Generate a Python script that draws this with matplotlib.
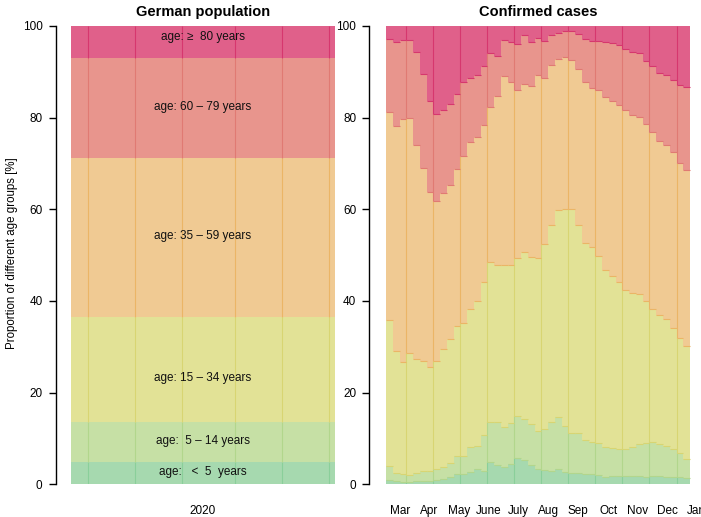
import numpy as np
import matplotlib
matplotlib.use("Agg")
import matplotlib.pyplot as plt

plt.rcParams['font.family'] = ['Liberation Sans', 'DejaVu Sans']

# age groups, youngest first
groups = ['<5', '5-14', '15-34', '35-59', '60-79', '80+']
labels = ['age:   <  5  years', 'age:  5 \u2013 14 years', 'age: 15 \u2013 34 years',
          'age: 35 \u2013 59 years', 'age: 60 \u2013 79 years', 'age: \u2265  80 years']
fill_cols = ['#A6D9AF', '#C6E0A5', '#E2E296', '#F0CA93', '#E8958D', '#E0608A']
line_cols = ['#8ACF9A', '#B2D68C', '#D8D572', '#EBB566', '#E07A73', '#D6376E']

# german population share per age group [%]
pop_share = [4.8, 8.8, 22.9, 34.8, 21.7, 7.0]

# confirmed cases, weekly, cumulative share [%] of cases below age x
cum_u5 = [0.9, 0.7, 0.5, 0.5, 0.7, 0.7, 0.7, 0.9, 1.2, 1.6, 2.2, 2.2, 2.7, 3.3, 3.0, 4.9,
          4.2, 3.8, 4.4, 5.7, 5.3, 4.2, 3.3, 3.1, 3.0, 3.3, 2.7, 2.4, 2.4, 2.2, 2.2, 2.0,
          1.7, 1.9, 1.8, 1.8, 1.8, 1.8, 1.7, 1.8, 1.8, 1.7, 1.6, 1.6, 1.3]
cum_u15 = [4.1, 2.5, 2.2, 2.1, 2.5, 2.9, 2.9, 3.3, 3.7, 4.6, 6.2, 6.2, 8.1, 8.4, 10.8, 13.7,
           13.7, 12.5, 13.3, 14.9, 14.2, 13.2, 11.6, 12.1, 13.7, 14.6, 12.7, 11.3, 11.3, 9.6,
           9.2, 9.1, 8.1, 8.0, 7.6, 7.6, 8.1, 8.7, 9.0, 9.2, 8.8, 8.3, 7.6, 6.8, 5.5]
cum_u35 = [35.8, 29.1, 26.6, 28.6, 27.3, 26.8, 25.7, 26.8, 29.5, 31.7, 34.5, 35.3, 38.3, 40.1,
           44.2, 48.4, 47.9, 47.9, 47.9, 49.3, 50.6, 49.6, 49.4, 52.4, 56.5, 59.9, 60.1, 60.1,
           56.5, 52.6, 51.8, 49.9, 46.8, 45.5, 44.1, 42.3, 41.8, 41.6, 40.1, 38.3, 36.9, 36.0,
           34.1, 32.0, 30.2]
cum_u60 = [81.3, 78.2, 79.7, 79.9, 74.0, 69.0, 63.8, 61.8, 63.6, 65.4, 68.9, 71.6, 74.7, 75.8,
           78.4, 82.4, 84.8, 89.1, 87.8, 86.0, 87.3, 86.8, 89.2, 88.7, 91.5, 92.9, 93.3, 92.6,
           90.6, 87.7, 86.5, 86.0, 84.4, 83.7, 82.8, 81.7, 80.5, 80.1, 78.7, 76.9, 75.0, 74.0,
           72.5, 70.2, 68.6]
cum_u80 = [97.2, 96.4, 97.0, 96.9, 94.4, 89.5, 83.6, 80.8, 81.6, 83.0, 85.2, 87.8, 88.6, 89.4,
           91.3, 94.0, 93.5, 96.9, 96.6, 96.0, 98.0, 96.6, 97.3, 96.8, 98.1, 98.5, 98.8, 98.8,
           98.3, 97.2, 96.8, 96.8, 96.4, 96.3, 95.9, 95.0, 94.4, 94.0, 92.4, 91.3, 89.7, 89.3,
           88.3, 87.1, 86.6]

months = ['Mar', 'Apr', 'May', 'June', 'July', 'Aug', 'Sep', 'Oct', 'Nov', 'Dec', 'Jan']
month_pos = [2.03, 6.44, 10.78, 15.2, 19.6, 24.0, 28.4, 32.9, 37.3, 41.7, 46.0]

nweeks = len(cum_u5)
edges = np.arange(nweeks + 1)
weekly_grid = np.arange(3, nweeks, 4)
left_grid = [2.9, 10.9, 18.9, 28.0, 36.0, 43.9]

W, H = 701, 517
fig = plt.figure(figsize=(W / 100, H / 100), dpi=100)
y0 = 1 - 484.3 / H
hh = 458.3 / H
axL = fig.add_axes([71 / W, y0, 264 / W, hh])
axR = fig.add_axes([386 / W, y0, 46.5 * 6.756 / W, hh])


def style(ax, off):
    for s in ['top', 'right', 'bottom']:
        ax.spines[s].set_visible(False)
    ax.spines['left'].set_position(('outward', off))
    ax.spines['left'].set_linewidth(1.0)
    ax.set_ylim(0, 100)
    ax.set_yticks([0, 20, 40, 60, 80, 100])
    ax.tick_params(axis='y', length=5, width=1.0, pad=4.5, labelsize=8.5)
    ax.tick_params(axis='x', length=0, pad=15, labelsize=8.5)


# left panel: population
style(axL, 11)
axL.set_xlim(0, 45)
cum_pop = np.cumsum(pop_share)
low = 0
for i, g in enumerate(groups):
    hi = cum_pop[i] if i < len(groups) - 1 else 100
    axL.bar(22.5, hi - low, bottom=low, width=45, color=fill_cols[i], lw=0, zorder=1)
    axL.vlines(left_grid, low, hi, color=line_cols[i], lw=0.8, zorder=2)
    low = hi
label_nudge = [0.3, 0.3, -1.8, 0.3, 0.2, 1.0]
low = 0
for i, lab in enumerate(labels):
    hi = cum_pop[i] if i < len(groups) - 1 else 100
    axL.text(22.5, (low + hi) / 2 + label_nudge[i], lab, ha='center', va='center',
             fontsize=8.5, color='#111111', zorder=3)
    low = hi
axL.set_xticks([22.5])
axL.set_xticklabels(['2020'])

# right panel: confirmed cases
style(axR, 12)
axR.set_xlim(0, 46.5)
bounds = [np.zeros(nweeks), np.array(cum_u5), np.array(cum_u15), np.array(cum_u35),
          np.array(cum_u60), np.array(cum_u80), np.full(nweeks, 100.0)]
for i in range(len(groups)):
    lo, up = bounds[i], bounds[i + 1]
    axR.stairs(up, edges, baseline=lo, fill=True, color=fill_cols[i], lw=0, zorder=1)
    axR.vlines(weekly_grid, lo[weekly_grid], up[weekly_grid], color=line_cols[i], lw=0.8, zorder=2)
    if i > 0:
        axR.hlines(lo, edges[:-1], edges[1:], color=line_cols[i], lw=0.8, zorder=3)
axR.set_xticks(month_pos)
axR.set_xticklabels(months)

fig.text(203 / W, 1 - 12.3 / H, 'German population', ha='center', va='center',
         fontsize=10.5, fontweight='bold')
fig.text(538 / W, 1 - 12.3 / H, 'Confirmed cases', ha='center', va='center',
         fontsize=10.5, fontweight='bold')
fig.text(12.5 / W, 1 - 253 / H, 'Proportion of different age groups [%]', rotation=90,
         ha='center', va='center', fontsize=8.3)

fig.savefig('out.png', dpi=100)
